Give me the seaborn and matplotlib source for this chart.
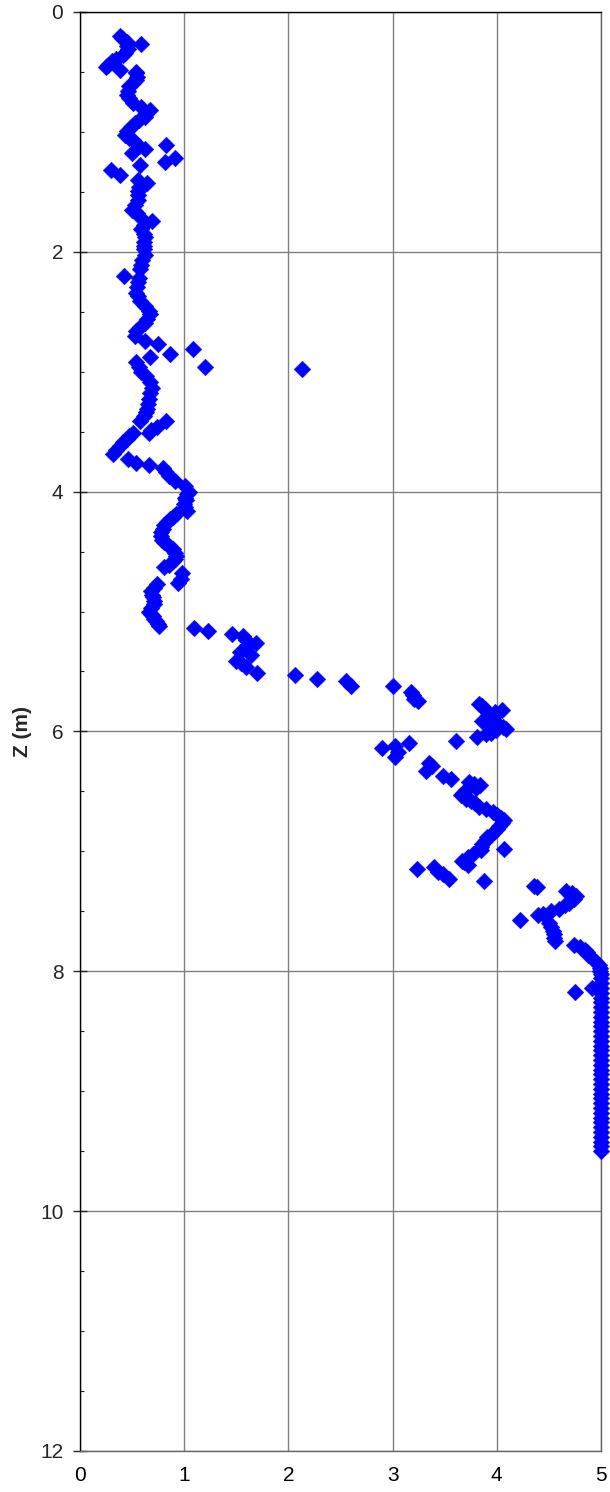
import pandas as pd
import matplotlib.pyplot as plt
import seaborn as sns
from matplotlib.ticker import MultipleLocator

# depth (m) and reading, segment by segment down the profile
z_top = [0.20, 0.22, 0.25, 0.27, 0.28, 0.31, 0.345, 0.36, 0.39, 0.41, 0.44, 0.46, 0.485,
         0.50, 0.51, 0.54, 0.57, 0.60, 0.62, 0.66, 0.69, 0.72, 0.76, 0.79, 0.82, 0.85,
         0.875, 0.90, 0.93, 0.96, 0.99, 1.03, 1.05, 1.07, 1.11, 1.12, 1.14, 1.18, 1.22,
         1.25, 1.28, 1.32, 1.36, 1.40, 1.43, 1.46, 1.49, 1.53, 1.57, 1.61, 1.65, 1.68,
         1.71, 1.74, 1.78, 1.81, 1.85, 1.88, 1.92, 1.95, 1.98]
v_top = [0.38, 0.40, 0.45, 0.585, 0.45, 0.46, 0.43, 0.41, 0.35, 0.31, 0.27, 0.25, 0.38,
         0.54, 0.54, 0.55, 0.54, 0.50, 0.47, 0.46, 0.45, 0.47, 0.51, 0.59, 0.67, 0.63,
         0.62, 0.57, 0.53, 0.49, 0.45, 0.43, 0.47, 0.51, 0.83, 0.57, 0.62, 0.50, 0.91,
         0.82, 0.576, 0.30, 0.38, 0.56, 0.64, 0.57, 0.56, 0.56, 0.56, 0.53, 0.50, 0.55,
         0.58, 0.69, 0.61, 0.59, 0.61, 0.62, 0.61, 0.61, 0.61]

z_mid = [2.03, 2.07, 2.11, 2.14, 2.20, 2.22, 2.25, 2.29, 2.34, 2.37, 2.41, 2.45, 2.49,
         2.52, 2.56, 2.59, 2.63, 2.66, 2.70, 2.74, 2.77, 2.81, 2.85, 2.88, 2.92, 2.96,
         2.96, 2.98, 3.00, 3.04, 3.09, 3.14, 3.18, 3.23, 3.27, 3.31, 3.34, 3.37, 3.41,
         3.41, 3.46, 3.49, 3.51, 3.51, 3.54, 3.56, 3.59, 3.62, 3.65, 3.69, 3.73, 3.76,
         3.78, 3.80, 3.84, 3.87, 3.91, 3.95, 4.00]
v_mid = [0.62, 0.60, 0.59, 0.58, 0.42, 0.57, 0.56, 0.55, 0.54, 0.56, 0.58, 0.62, 0.66,
         0.67, 0.64, 0.62, 0.58, 0.54, 0.53, 0.62, 0.75, 1.08, 0.86, 0.67, 0.54, 0.57,
         1.20, 2.13, 0.59, 0.63, 0.67, 0.69, 0.67, 0.66, 0.65, 0.64, 0.63, 0.61, 0.58,
         0.83, 0.74, 0.68, 0.66, 0.51, 0.47, 0.45, 0.41, 0.38, 0.35, 0.32, 0.46, 0.54,
         0.66, 0.80, 0.83, 0.85, 0.91, 1.01, 1.05]

z_low = [4.02, 4.05, 4.07, 4.10, 4.13, 4.16, 4.19, 4.21, 4.23, 4.25, 4.28, 4.31, 4.34,
         4.37, 4.40, 4.42, 4.44, 4.46, 4.48, 4.51, 4.54, 4.56, 4.58, 4.61, 4.63, 4.68,
         4.73, 4.76, 4.77, 4.80, 4.83, 4.86, 4.88, 4.91, 4.94, 4.97, 5.00, 5.02, 5.04,
         5.06, 5.08, 5.10, 5.12, 5.14, 5.16, 5.19, 5.20, 5.24, 5.26, 5.30, 5.34, 5.36,
         5.41, 5.43, 5.46, 5.51, 5.53, 5.56, 5.58, 5.62]
v_low = [1.03, 1.01, 1.02, 1.00, 1.01, 1.03, 0.92, 0.89, 0.86, 0.84, 0.81, 0.80, 0.78,
         0.78, 0.79, 0.81, 0.84, 0.86, 0.89, 0.91, 0.92, 0.91, 0.89, 0.85, 0.81, 0.98,
         0.97, 0.94, 0.74, 0.71, 0.68, 0.69, 0.70, 0.71, 0.71, 0.68, 0.66, 0.68, 0.70,
         0.71, 0.73, 0.75, 0.76, 1.09, 1.23, 1.46, 1.56, 1.59, 1.69, 1.58, 1.54, 1.64,
         1.50, 1.55, 1.59, 1.70, 2.06, 2.27, 2.55, 2.60]

z_deep = [5.62, 5.67, 5.70, 5.73, 5.75, 5.77, 5.79, 5.81, 5.82, 5.84, 5.85, 5.88, 5.91,
          5.93, 5.95, 5.96, 5.98, 5.99, 6.01, 6.02, 6.05, 6.08, 6.10, 6.12, 6.14, 6.17,
          6.21, 6.26, 6.29, 6.33, 6.37, 6.40, 6.42, 6.44, 6.45, 6.47, 6.49, 6.51, 6.53,
          6.56, 6.58, 6.60, 6.63, 6.65, 6.67, 6.70, 6.72, 6.74, 6.76, 6.79, 6.81, 6.84,
          6.86, 6.88, 6.91, 6.94, 6.96, 6.98, 6.99, 7.02, 7.05, 7.08, 7.09, 7.11, 7.13,
          7.15, 7.17, 7.19, 7.23, 7.25, 7.29, 7.30, 7.33, 7.35, 7.37, 7.40, 7.43, 7.45,
          7.48, 7.50, 7.52, 7.53, 7.57, 7.60, 7.63, 7.66, 7.69, 7.72, 7.75, 7.78, 7.80,
          7.82, 7.84, 7.86, 7.89, 7.92, 7.95, 7.97, 8.00, 8.14, 8.17]
v_deep = [3.00, 3.18, 3.20, 3.21, 3.24, 3.83, 3.86, 3.89, 4.05, 3.98, 3.92, 3.96, 3.86,
          3.92, 4.02, 4.06, 4.09, 3.99, 3.94, 3.90, 3.81, 3.61, 3.16, 3.02, 2.90, 3.05,
          3.02, 3.35, 3.38, 3.32, 3.48, 3.56, 3.73, 3.78, 3.84, 3.80, 3.70, 3.68, 3.66,
          3.70, 3.75, 3.79, 3.83, 3.90, 3.96, 4.00, 4.04, 4.07, 4.05, 4.02, 4.00, 3.97,
          3.94, 3.91, 3.89, 3.86, 3.85, 4.07, 3.85, 3.77, 3.72, 3.67, 3.69, 3.72, 3.40,
          3.23, 3.44, 3.48, 3.54, 3.88, 4.36, 4.39, 4.66, 4.72, 4.76, 4.74, 4.69, 4.65,
          4.60, 4.52, 4.44, 4.40, 4.22, 4.50, 4.52, 4.54, 4.55, 4.55, 4.56, 4.74, 4.80,
          4.85, 4.87, 4.88, 4.91, 4.95, 4.98, 4.99, 4.99, 4.91, 4.75]

z_limit = [8.02, 8.06, 8.10, 8.14, 8.18, 8.22, 8.26, 8.30, 8.34, 8.38, 8.42, 8.46, 8.50,
           8.54, 8.58, 8.62, 8.66, 8.70, 8.74, 8.78, 8.82, 8.86, 8.90, 8.94, 8.98, 9.02,
           9.06, 9.10, 9.14, 9.18, 9.22, 9.26, 9.30, 9.34, 9.38, 9.42, 9.46, 9.50]
v_limit = [5.0] * len(z_limit)

df = pd.DataFrame({
    'z': z_top + z_mid + z_low + z_deep + z_limit,
    'v': v_top + v_mid + v_low + v_deep + v_limit,
})

sns.set_style('white')
plt.rcParams['font.family'] = ['Liberation Sans', 'DejaVu Sans']

fig = plt.figure(figsize=(6.1, 14.92), dpi=100)
ax = fig.add_axes([0.1311, 0.0275, 0.8541, 0.9645])

sns.scatterplot(data=df, x='v', y='z', marker='D', color='#0000FF', s=72,
                edgecolor='#0000FF', linewidth=0.3, ax=ax, zorder=3, clip_on=False)

ax.set_xlim(0, 5)
ax.set_ylim(12, 0)
ax.set_xticks(range(0, 6))
ax.set_yticks(range(0, 13, 2))
ax.yaxis.set_minor_locator(MultipleLocator(0.5))
ax.grid(True, which='major', color='#808080', linewidth=1)
ax.set_axisbelow(True)

ax.tick_params(axis='x', length=0, pad=11, labelsize=15, colors='black')
ax.tick_params(axis='y', which='major', direction='inout', length=10, width=1,
               pad=7, labelsize=15, left=True)
ax.tick_params(axis='y', which='minor', direction='in', length=3, width=0.8, left=True)

for side in ['left', 'top']:
    ax.spines[side].set_color('black')
for side in ['bottom', 'right']:
    ax.spines[side].set_color('#666666')
for sp in ax.spines.values():
    sp.set_linewidth(1)

ax.set_xlabel('')
ax.set_ylabel('Z (m)', fontsize=15, fontweight='bold')
ax.yaxis.set_label_coords(-0.092, 0.5)

plt.savefig('out.png', dpi=100)
